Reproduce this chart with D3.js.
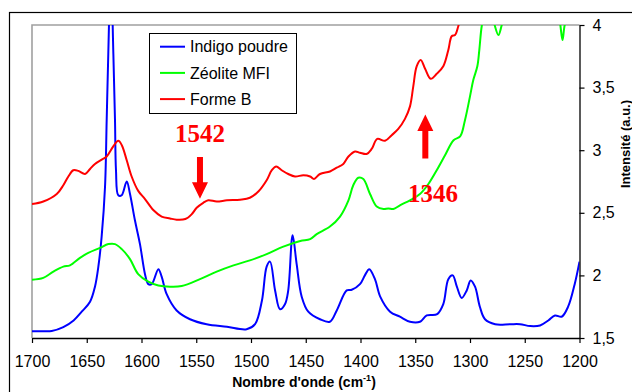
<!DOCTYPE html>
<html><head><meta charset="utf-8">
<script src="https://cdn.jsdelivr.net/npm/d3@7"></script>
<style>body{margin:0;background:#fff} svg{display:block}</style>
</head><body>
<svg id="c" width="632" height="392"></svg>
<script>
// ---- data: [wavenumber (cm-1), intensity (a.u.)] ----
const indigoPoudre = [[1700,1.554],[1690,1.554],[1682,1.556],[1671.4,1.587],[1662,1.64],[1654.6,1.71],[1647,1.79],[1642.5,1.91],[1639.4,2.07],[1636.4,2.31],[1633.3,2.71],[1631.8,3.24],[1630.3,3.78],[1628,4.45],[1625.7,3.77],[1624.2,3.24],[1623.3,2.84],[1621.2,2.64],[1618.1,2.64],[1613.5,2.75],[1610.5,2.65],[1606,2.44],[1601.4,2.25],[1596.8,2.01],[1593.8,1.93],[1590.7,1.93],[1584.6,2.05],[1581.6,1.99],[1577,1.85],[1567.9,1.72],[1555.7,1.65],[1540.5,1.61],[1522,1.59],[1504,1.57],[1496.3,1.61],[1490,1.80],[1485.7,2.07],[1482.6,2.11],[1478,1.88],[1473.5,1.73],[1469,1.77],[1466,1.88],[1462,2.32],[1458.3,2.09],[1453.7,1.83],[1447.7,1.71],[1437,1.65],[1428,1.63],[1421.7,1.72],[1412.6,1.88],[1408,1.885],[1400.5,1.93],[1396,2.00],[1392,2.05],[1386.8,1.97],[1382,1.83],[1373,1.71],[1364,1.67],[1354.8,1.63],[1345.7,1.63],[1339.5,1.68],[1330,1.69],[1324.4,1.77],[1319.8,1.97],[1315.8,2.00],[1312,1.91],[1307.6,1.82],[1303,1.88],[1299.4,1.96],[1295.4,1.91],[1291,1.75],[1286.3,1.65],[1277,1.61],[1263.5,1.61],[1254.3,1.61],[1245,1.595],[1236,1.6],[1228.5,1.64],[1222.4,1.68],[1216.3,1.67],[1210.4,1.75],[1204.4,1.93],[1200,2.11]];

const zeoliteMFI = [[1700,1.965],[1689.7,1.98],[1680.5,2.03],[1671.4,2.07],[1665.3,2.08],[1656.2,2.14],[1648.6,2.18],[1637.9,2.22],[1630.3,2.25],[1624.2,2.25],[1618,2.21],[1610.5,2.13],[1603,2.01],[1593.8,1.95],[1584.6,1.92],[1574,1.91],[1563.3,1.915],[1546.6,1.97],[1531.3,2.03],[1516,2.08],[1501,2.12],[1485.7,2.17],[1470.5,2.23],[1455,2.275],[1446,2.29],[1440,2.33],[1427.9,2.39],[1418.7,2.47],[1411,2.6],[1406.6,2.72],[1402,2.78],[1397.4,2.77],[1391.3,2.65],[1385.2,2.55],[1379,2.53],[1374.6,2.535],[1370,2.53],[1364,2.56],[1354.8,2.6],[1345.7,2.65],[1338,2.73],[1330.4,2.84],[1322.8,2.96],[1315,3.08],[1309,3.11],[1304.6,3.24],[1300,3.43],[1297,3.56],[1293.3,3.67],[1291.5,3.8],[1289.3,3.99],[1286,4.12],[1281,4.15],[1277.5,4.0],[1274,3.92],[1271,4.0],[1266,4.15],[1240,4.2],[1220,4.15],[1217.5,4.0],[1215.5,3.88],[1213.5,4.0],[1208,4.15],[1200,4.2]];

const formeB = [[1700,2.57],[1689.7,2.59],[1677.4,2.65],[1671.4,2.72],[1666.8,2.79],[1662.3,2.84],[1657.7,2.835],[1651.6,2.81],[1647,2.85],[1642.5,2.89],[1636.3,2.925],[1631.8,2.95],[1625.8,3.03],[1621.2,3.075],[1618,3.04],[1613.5,2.92],[1609,2.79],[1603,2.675],[1596.8,2.61],[1589,2.52],[1581.6,2.47],[1574,2.455],[1567.9,2.445],[1560,2.45],[1554,2.49],[1549.6,2.54],[1543.6,2.58],[1539,2.6],[1531.3,2.59],[1522,2.6],[1510,2.605],[1501,2.62],[1493.3,2.67],[1485.7,2.76],[1481,2.84],[1477,2.87],[1472,2.84],[1466,2.81],[1459.8,2.79],[1452.2,2.8],[1446,2.79],[1442.5,2.77],[1437,2.81],[1427.9,2.83],[1421.7,2.86],[1415.7,2.89],[1411,2.95],[1405,2.99],[1400.5,2.98],[1394.4,2.97],[1389.8,3.01],[1384.7,3.09],[1377.6,3.075],[1371.5,3.12],[1365.5,3.17],[1359.4,3.25],[1354.8,3.35],[1351.8,3.51],[1348.7,3.67],[1345,3.72],[1341,3.65],[1335.9,3.57],[1330.4,3.61],[1324.4,3.67],[1319.8,3.8],[1316.7,3.91],[1313.7,3.92],[1310.7,3.99],[1306,4.15],[1290,4.4],[1200,4.5]];

const seriesNames = ["Indigo poudre", "Zéolite MFI", "Forme B"];
const seriesColors = ["#0000ff", "#00ff00", "#ff0000"];
const xTicks = [1700,1650,1600,1550,1500,1450,1400,1350,1300,1250,1200];
const yTicks = [1.5,2,2.5,3,3.5,4];
// annotations: label, arrow wavenumber, arrow from/to (intensity), label position
const annLabels = ["1542", "1346"];
const annArrowX = [1546.6, 1340.8];
const annArrowFrom = [2.946, 2.934];
const annArrowTo = [2.613, 3.286];
const annLabelX = [1546.6, 1333.8];
const annLabelY = [3.066, 2.585];

// ---- drawing ----
const svg = d3.select("#c");
const L = 32, R = 579.5, T = 25, B = 338;
const x = d3.scaleLinear().domain([1700,1200]).range([L,R]);
const y = d3.scaleLinear().domain([1.5,4]).range([B,T]);

// outer frame
svg.append("rect").attr("x",9.5).attr("y",12.5).attr("width",700).attr("height",500)
  .attr("fill","none").attr("stroke","#000").attr("stroke-width",1.2);

// plot area grey border (top + left)
svg.append("path").attr("d",`M${L},${B}V${T}H${R}`)
  .attr("fill","none").attr("stroke","#a0a0a0").attr("stroke-width",1.6);

svg.append("clipPath").attr("id","clip").append("rect")
  .attr("x",L).attr("y",T).attr("width",R-L).attr("height",B-T);

const line = d3.line().x(d=>x(d[0])).y(d=>y(d[1])).curve(d3.curveCatmullRom.alpha(0.5));
const g = svg.append("g").attr("clip-path","url(#clip)");
[indigoPoudre, zeoliteMFI, formeB].forEach((s,i)=>{
  g.append("path").datum(s).attr("d",line).attr("fill","none")
    .attr("stroke",seriesColors[i]).attr("stroke-width",2).attr("stroke-linejoin","round");
});

// axes
const fmt = v => String(v).replace(".", ",");
const xa = svg.append("g").attr("transform",`translate(0,${B})`)
  .call(d3.axisBottom(x).tickValues(xTicks).tickFormat(d=>String(d)).tickSize(5).tickSizeOuter(0).tickPadding(13));
const ya = svg.append("g").attr("transform",`translate(${R},0)`)
  .call(d3.axisRight(y).tickValues(yTicks).tickFormat(fmt).tickSize(5).tickSizeOuter(0).tickPadding(8));
[xa,ya].forEach(a=>{
  a.select(".domain").attr("stroke","#000").attr("stroke-width",1.3);
  a.selectAll(".tick line").attr("stroke","#000").attr("stroke-width",1.2);
  a.selectAll("text").attr("font-family","'Liberation Sans', Arial, sans-serif")
    .attr("font-size",16).attr("fill","#000");
});

// axis titles
const xt = svg.append("text").attr("x",304).attr("y",387).attr("text-anchor","middle")
  .attr("font-family","'Liberation Sans', Arial, sans-serif").attr("font-weight","bold")
  .attr("font-size",14).attr("fill","#000");
xt.append("tspan").text("Nombre d'onde (cm");
xt.append("tspan").attr("dy",-6).attr("font-size",9).text("-1");
xt.append("tspan").attr("dy",6).text(")");

svg.append("text").attr("transform","translate(630,144) rotate(-90)").attr("text-anchor","middle")
  .attr("font-family","'Liberation Sans', Arial, sans-serif").attr("font-weight","bold")
  .attr("font-size",13).attr("fill","#000").text("Intensité (a.u.)");

// legend
const lg = svg.append("g");
lg.append("rect").attr("x",149.5).attr("y",33.5).attr("width",147).attr("height",80)
  .attr("fill","#fff").attr("stroke","#000").attr("stroke-width",1);
seriesNames.forEach((n,i)=>{
  const yy = 46.7 + i*26.2;
  lg.append("line").attr("x1",160).attr("x2",185).attr("y1",yy).attr("y2",yy)
    .attr("stroke",seriesColors[i]).attr("stroke-width",2);
  lg.append("text").attr("x",190).attr("y",yy).attr("dy","0.36em")
    .attr("font-family","'Liberation Sans', Arial, sans-serif").attr("font-size",16)
    .attr("fill","#000").text(n);
});

// annotations
annLabels.forEach((lab,i)=>{
  const ax = x(annArrowX[i]), y0 = y(annArrowFrom[i]), y1 = y(annArrowTo[i]);
  const dir = Math.sign(y1-y0);
  const headLen = 16.5, headHalf = 8, shaftHalf = 3;
  const yh = y1 - dir*headLen;
  svg.append("path").attr("fill","#ff0000")
    .attr("d",`M${ax-shaftHalf},${y0}L${ax+shaftHalf},${y0}L${ax+shaftHalf},${yh}L${ax+headHalf},${yh}L${ax},${y1}L${ax-headHalf},${yh}L${ax-shaftHalf},${yh}Z`);
  svg.append("text").attr("x",x(annLabelX[i])).attr("y",y(annLabelY[i])).attr("text-anchor","middle")
    .attr("font-family","'Liberation Serif', 'Times New Roman', serif").attr("font-weight","bold")
    .attr("font-size",25).attr("fill","#ff0000").text(lab);
});
</script>
</body></html>
